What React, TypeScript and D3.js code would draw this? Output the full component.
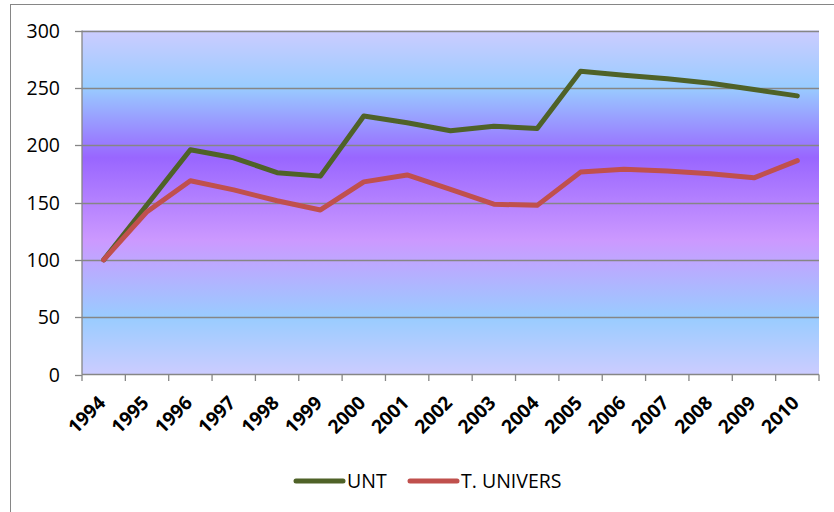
import React from "react";
import * as d3 from "d3";

const years = ["1994","1995","1996","1997","1998","1999","2000","2001","2002","2003","2004","2005","2006","2007","2008","2009","2010"];
const unt = [100, 148, 196, 189, 176, 173, 225.5, 219.5, 212.5, 216.5, 214.5, 264.5, 261, 258, 254, 248.5, 243];
const tUnivers = [100, 142, 169, 161, 151.5, 143.5, 168, 174, 161.5, 148.5, 147.5, 176.5, 179, 177.5, 175, 171.5, 186.5];
const yTicks = [0, 50, 100, 150, 200, 250, 300];
const seriesNames = ["UNT", "T. UNIVERS"];
const seriesColors = ["#4f6228", "#c0504d"];

const FONT = "'Open Sans', sans-serif";

export default function App() {
  const left = 82, right = 819, top = 30.5, bottom = 374.5;
  const x = d3.scaleBand().domain(years).range([left, right]).paddingInner(0).paddingOuter(0);
  const y = d3.scaleLinear().domain([0, 300]).range([bottom, top]);
  const line = d3.line<number>()
    .x((_, i) => (x(years[i]) as number) + x.bandwidth() / 2)
    .y((d) => y(d));
  const series = [unt, tUnivers];
  const boundaries = years.map((yr) => x(yr) as number).concat([right]);

  return (
    <svg width={834} height={512} style={{ position: "absolute", left: 0, top: 0, display: "block" }}>
      <defs>
        <linearGradient id="bg" x1="0" y1="0" x2="0" y2="1">
          <stop offset="0" stopColor="#ccccff" />
          <stop offset="0.165" stopColor="#99ccff" />
          <stop offset="0.37" stopColor="#9966ff" />
          <stop offset="0.61" stopColor="#cc99ff" />
          <stop offset="0.835" stopColor="#99ccff" />
          <stop offset="1" stopColor="#ccccff" />
        </linearGradient>
      </defs>
      <rect x={0} y={0} width={834} height={512} fill="#ffffff" />
      <rect x={10.5} y={4.5} width={850} height={540} fill="#ffffff" stroke="#868686" strokeWidth={1} />
      <rect x={left} y={top} width={right - left} height={bottom - top} fill="url(#bg)" />
      {yTicks.filter((t) => t > 0).map((t) => (
        <line key={"g" + t} x1={left} x2={right} y1={Math.round(y(t)) + 0.5} y2={Math.round(y(t)) + 0.5} stroke="#868686" strokeWidth={1.3} />
      ))}
      <line x1={left} x2={left} y1={top} y2={bottom} stroke="#868686" strokeWidth={1.3} />
      {yTicks.map((t) => (
        <g key={"yt" + t}>
          <line x1={left - 7} x2={left} y1={Math.round(y(t)) + 0.5} y2={Math.round(y(t)) + 0.5} stroke="#868686" strokeWidth={1.3} />
          <text x={60} y={y(t)} dy="0.36em" textAnchor="end" fontFamily={FONT} fontSize={19.5} fill="#000">{t}</text>
        </g>
      ))}
      <line x1={left} x2={right} y1={bottom} y2={bottom} stroke="#868686" strokeWidth={1.3} />
      {boundaries.map((bx, i) => (
        <line key={"xt" + i} x1={bx} x2={bx} y1={bottom} y2={bottom + 6.5} stroke="#868686" strokeWidth={1.3} />
      ))}
      {years.map((yr) => {
        const cx = (x(yr) as number) + x.bandwidth() / 2 + 3;
        const cy = 404;
        return (
          <text key={"xl" + yr} x={cx} y={cy} textAnchor="end" fontFamily={FONT} fontWeight="bold" fontSize={19} fill="#000" transform={`rotate(-45 ${cx} ${cy})`}>{yr}</text>
        );
      })}
      {series.map((s, i) => (
        <path key={"s" + i} d={line(s) || ""} fill="none" stroke={seriesColors[i]} strokeWidth={5} strokeLinejoin="round" strokeLinecap="round" />
      ))}
      <g>
        <line x1={296} x2={343} y1={481} y2={481} stroke={seriesColors[0]} strokeWidth={5} strokeLinecap="round" />
        <text x={347} y={487.5} fontFamily={FONT} fontSize={19.5} fill="#000">{seriesNames[0]}</text>
        <line x1={410} x2={457} y1={481} y2={481} stroke={seriesColors[1]} strokeWidth={5} strokeLinecap="round" />
        <text x={461} y={487.5} fontFamily={FONT} fontSize={19.5} fill="#000">{seriesNames[1]}</text>
      </g>
    </svg>
  );
}
